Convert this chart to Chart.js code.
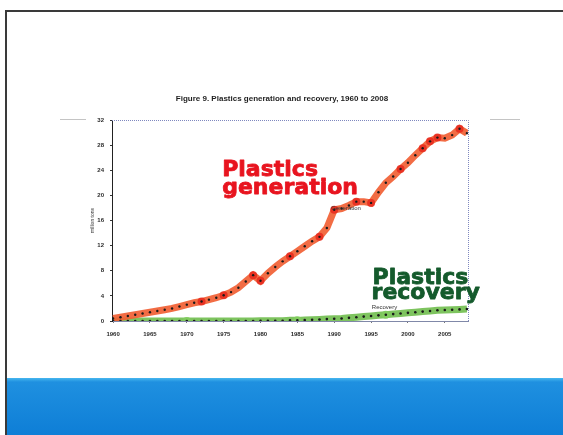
<!DOCTYPE html>
<html>
<head>
<meta charset="utf-8">
<script src="https://cdn.jsdelivr.net/npm/chart.js@4.4.1/dist/chart.umd.min.js"></script>
<style>
  html, body { margin: 0; padding: 0; background: #fff; }
  #slide { position: relative; width: 563px; height: 435px; overflow: hidden; background: #fff; }
  #frame { position: absolute; left: 5px; top: 10px; width: 620px; height: 460px;
           border-left: 2px solid #3a3a3a; border-top: 2px solid #3a3a3a; }
  #band { position: absolute; left: 7px; right: 0; top: 378px; bottom: 0;
          background: linear-gradient(#46b6ee 0, #1f90e0 4px, #0e7ed6 100%); }
  #chart { position: absolute; left: 0; top: 0; }
</style>
</head>
<body>
<div id="slide">
  <div id="frame"></div>
  <div id="band"></div>
  <canvas id="chart" width="563" height="435"></canvas>
</div>
<script>
// Plastics generation and recovery (million tons)
const years = [
  1960, 1961, 1962, 1963, 1964, 1965, 1966, 1967, 1968, 1969,
  1970, 1971, 1972, 1973, 1974, 1975, 1976, 1977, 1978, 1979,
  1980, 1981, 1982, 1983, 1984, 1985, 1986, 1987, 1988, 1989,
  1990, 1991, 1992, 1993, 1994, 1995, 1996, 1997, 1998, 1999,
  2000, 2001, 2002, 2003, 2004, 2005, 2006, 2007, 2008
];
const generation = [
  0.4, 0.6, 0.8, 1.0, 1.2, 1.4, 1.6, 1.8, 2.0, 2.3,
  2.6, 2.9, 3.1, 3.4, 3.7, 4.1, 4.6, 5.3, 6.3, 7.3,
  6.4, 7.6, 8.6, 9.5, 10.3, 11.1, 11.9, 12.7, 13.4, 14.8,
  17.7, 17.9, 18.4, 19.0, 19.0, 18.8, 20.5, 22.0, 23.0, 24.2,
  25.2, 26.4, 27.5, 28.6, 29.2, 29.1, 29.6, 30.6, 29.9
];
const recovery = [
  0, 0, 0, 0, 0, 0, 0, 0, 0, 0,
  0, 0, 0, 0, 0, 0, 0, 0, 0, 0,
  0.05, 0.05, 0.05, 0.05, 0.1, 0.1, 0.15, 0.2, 0.25, 0.3,
  0.35, 0.4, 0.5, 0.6, 0.7, 0.8, 0.9, 1.0, 1.1, 1.2,
  1.3, 1.4, 1.5, 1.6, 1.7, 1.75, 1.8, 1.85, 1.9
];
// years where the hand-drawn highlight leaves a darker blob
const genBlobYears = [1972, 1975, 1979, 1980, 1984, 1988, 1990, 1993, 1995, 1999, 2002, 2003, 2004, 2007];
const recBlobYears = [1970, 1985, 1997];

const xTicks = [1960, 1965, 1970, 1975, 1980, 1985, 1990, 1995, 2000, 2005];
const yTicks = [0, 4, 8, 12, 16, 20, 24, 28, 32];

const titleText = 'Figure 9. Plastics generation and recovery, 1960 to 2008';
const yAxisTitle = 'million tons';
const genLabel = ['Plastics', 'generation'];
const recLabel = ['Plastics', 'recovery'];

const toPoints = vals => years.map((y, i) => ({ x: y, y: vals[i] }));

// draws title, plot frame and the big text labels
const decorPlugin = {
  id: 'decor',
  beforeDatasetsDraw(chart) {
    const { ctx, chartArea: a } = chart;
    ctx.save();
    // dotted frame on top and right
    ctx.setLineDash([1, 1]);
    ctx.strokeStyle = '#7f88bf';
    ctx.lineWidth = 1;
    ctx.beginPath();
    ctx.moveTo(a.left, a.top + 0.5);
    ctx.lineTo(a.right + 0.5, a.top + 0.5);
    ctx.lineTo(a.right + 0.5, a.bottom);
    ctx.stroke();
    ctx.setLineDash([]);
    // faint short lines beside the plot
    ctx.strokeStyle = '#c4c4c4';
    ctx.beginPath();
    ctx.moveTo(60, a.top - 0.5); ctx.lineTo(86, a.top - 0.5);
    ctx.moveTo(490, a.top - 0.5); ctx.lineTo(520, a.top - 0.5);
    ctx.stroke();
    ctx.restore();
  },
  afterDraw(chart) {
    const { ctx, chartArea: a, scales } = chart;
    const sx = scales.x, sy = scales.y;
    ctx.save();
    // title
    ctx.fillStyle = '#1e1e1e';
    ctx.font = 'bold 8px "Liberation Sans", Arial, sans-serif';
    ctx.textAlign = 'center';
    ctx.textBaseline = 'alphabetic';
    ctx.fillText(titleText, 282, 101);

    // y axis title
    ctx.save();
    ctx.translate(94, (a.top + a.bottom) / 2);
    ctx.rotate(-Math.PI / 2);
    ctx.font = '5px "Liberation Sans", Arial, sans-serif';
    ctx.fillStyle = '#333';
    ctx.fillText(yAxisTitle, 0, 0);
    ctx.restore();

    // small original series labels
    ctx.textAlign = 'left';
    ctx.font = '6px "Liberation Sans", Arial, sans-serif';
    ctx.fillStyle = '#333';
    ctx.fillText('Generation', sx.getPixelForValue(1989.6), sy.getPixelForValue(17.7));
    ctx.fillText('Recovery', sx.getPixelForValue(1995.1), sy.getPixelForValue(1.9));

    // big hand-added labels, slightly stroked to look heavier
    ctx.font = 'bold 22px "DejaVu Sans", sans-serif';
    ctx.lineWidth = 0.8;
    ctx.lineJoin = 'round';
    const heavyText = (txt, x, y, col) => {
      ctx.fillStyle = col;
      ctx.strokeStyle = col;
      ctx.fillText(txt, x, y);
      ctx.strokeText(txt, x, y);
    };
    let gx = sx.getPixelForValue(1974.8), gy = sy.getPixelForValue(23.1);
    heavyText(genLabel[0], gx, gy, '#e8141f');
    heavyText(genLabel[1], gx, gy + 18, '#e8141f');
    let rx = sx.getPixelForValue(1995.2), ry = sy.getPixelForValue(5.9);
    heavyText(recLabel[0], rx, ry, '#145a2c');
    heavyText(recLabel[1], rx - 1, ry + 15, '#145a2c');
    ctx.restore();
  }
};

const tickFont = { size: 6, weight: 'bold', family: '"Liberation Sans", Arial, sans-serif' };

new Chart(document.getElementById('chart'), {
  type: 'line',
  data: {
    datasets: [
      {
        label: 'Generation',
        data: toPoints(generation),
        borderColor: 'rgba(241, 96, 52, 0.92)',
        borderWidth: 7,
        pointRadius: ctx => genBlobYears.includes(years[ctx.dataIndex]) ? 4 : 0,
        pointBackgroundColor: 'rgba(232, 40, 28, 0.85)',
        pointBorderWidth: 0,
        tension: 0,
        order: 2
      },
      {
        label: 'Recovery',
        data: toPoints(recovery),
        borderColor: 'rgba(112, 190, 78, 0.9)',
        borderWidth: 7,
        pointRadius: ctx => recBlobYears.includes(years[ctx.dataIndex]) ? 4 : 0,
        pointBackgroundColor: 'rgba(130, 205, 95, 0.9)',
        pointBorderWidth: 0,
        tension: 0,
        order: 2
      },
      {
        label: 'Generation markers',
        data: toPoints(generation),
        showLine: false,
        pointRadius: 1.2,
        pointBackgroundColor: '#1a1a1a',
        pointBorderWidth: 0,
        order: 1
      },
      {
        label: 'Recovery markers',
        data: toPoints(recovery),
        showLine: false,
        pointRadius: 1.3,
        pointBackgroundColor: '#1a1a1a',
        pointBorderWidth: 0,
        order: 1
      }
    ]
  },
  options: {
    responsive: false,
    animation: false,
    events: [],
    layout: { padding: { left: 0, top: 120, right: 95, bottom: 90 } },
    plugins: { legend: { display: false }, tooltip: { enabled: false }, title: { display: false } },
    scales: {
      x: {
        type: 'linear',
        min: 1959.85,
        max: 2008.15,
        afterBuildTicks: s => { s.ticks = xTicks.map(v => ({ value: v })); },
        afterFit: s => { s.height = 24; },
        grid: { drawOnChartArea: false, tickLength: 2, color: '#777' },
        border: { color: '#8088a8', dash: [1, 1] },
        ticks: { font: tickFont, color: '#2a2a2a', padding: 8, maxRotation: 0, autoSkip: false,
                 callback: v => String(v) }
      },
      y: {
        min: 0,
        max: 32,
        afterBuildTicks: s => { s.ticks = yTicks.map(v => ({ value: v })); },
        afterFit: s => { s.width = 112; },
        grid: { drawOnChartArea: false, tickLength: 2, color: '#333' },
        border: { color: '#222', dash: [1, 1] },
        ticks: { font: tickFont, color: '#2a2a2a', padding: 6 }
      }
    }
  },
  plugins: [decorPlugin]
});
</script>
</body>
</html>
